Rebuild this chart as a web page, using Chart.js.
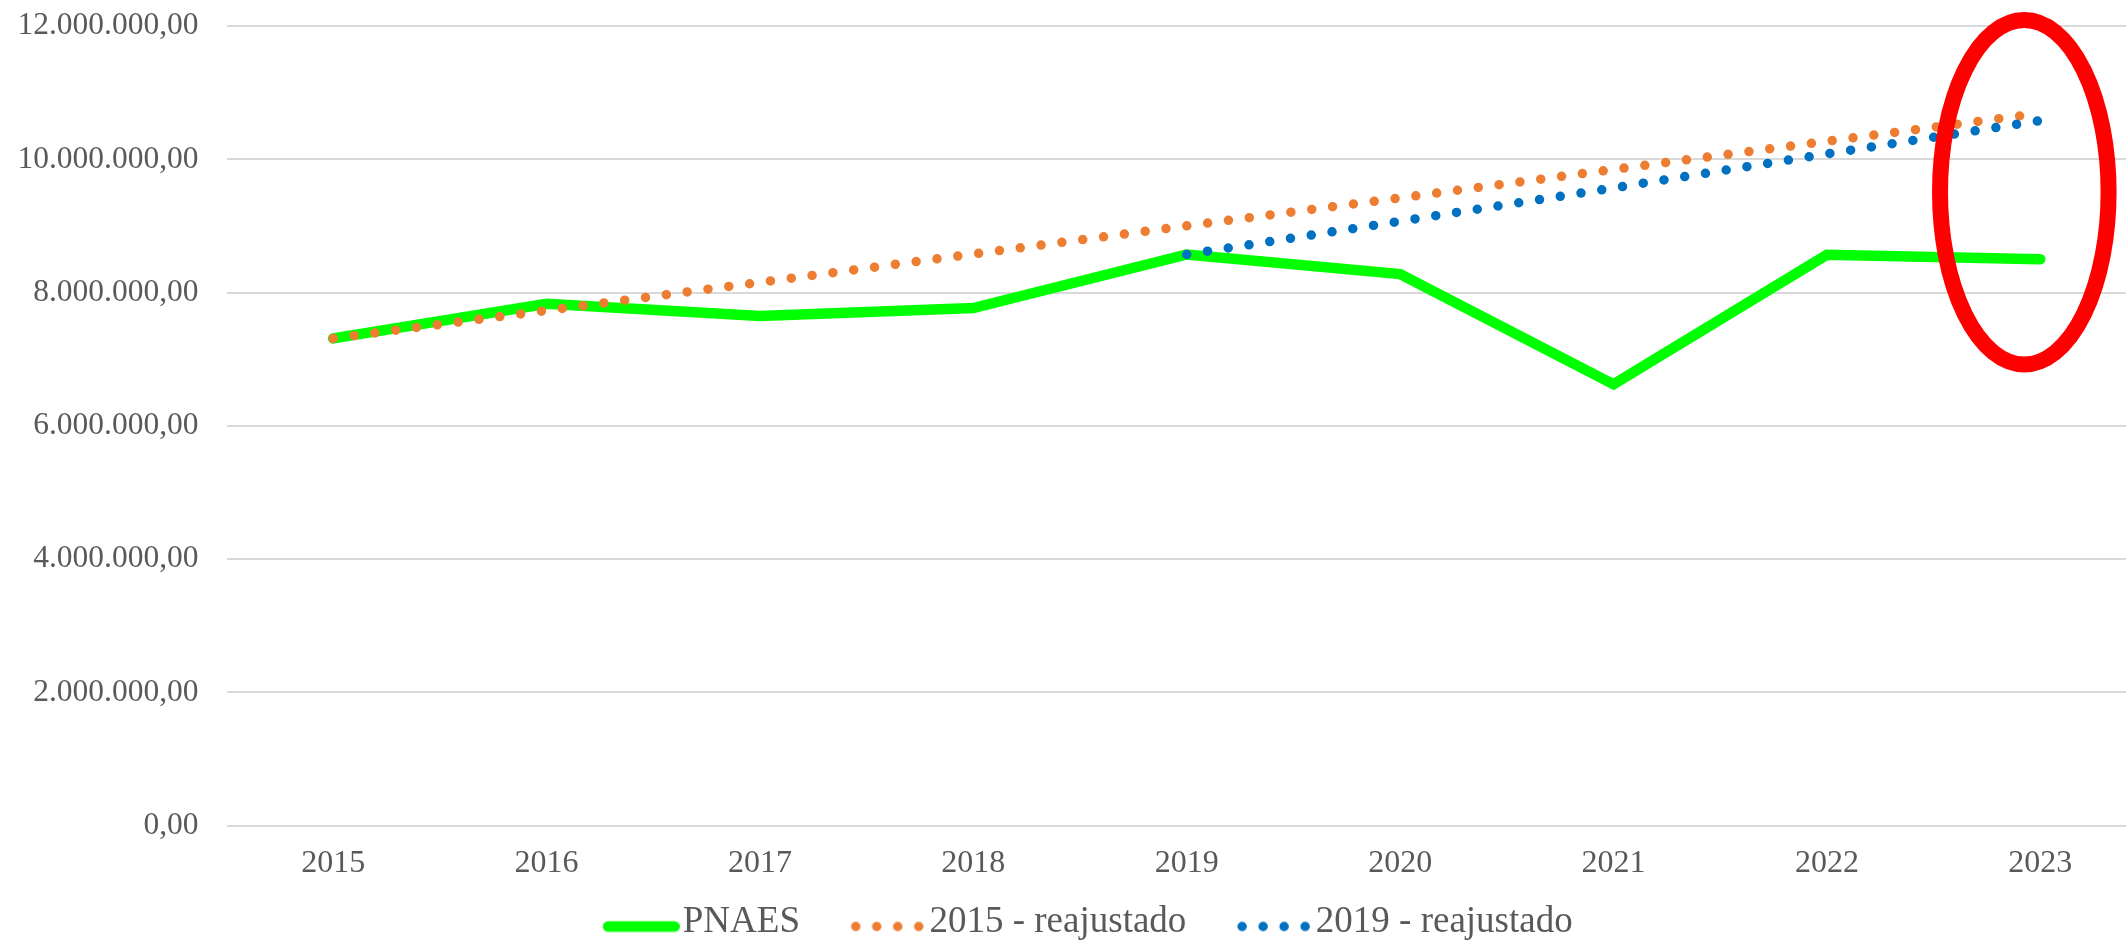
<!DOCTYPE html>
<html lang="pt-BR">
<head>
<meta charset="utf-8">
<title>PNAES</title>
<script src="https://cdn.jsdelivr.net/npm/chart.js@4.4.1/dist/chart.umd.min.js"></script>
<style>
	html, body { margin: 0; padding: 0; background: #fff; overflow: hidden; }
	#wrap { position: absolute; left: 0; top: 0; width: 2147px; height: 951px; }
</style>
</head>
<body>
<div id="wrap"><canvas id="grafico"></canvas></div>
<script>
// Dados
const anos = ['2015', '2016', '2017', '2018', '2019', '2020', '2021', '2022', '2023'];
const pnaes = [7311000, 7830000, 7649000, 7766000, 8571000, 8276000, 6622000, 8566000, 8500000];
const reajuste2015 = [7311000, 7730000, 8152000, 8578000, 9001000, 9420000, 9847000, 10270000, 10690000];
const reajuste2019 = [null, null, null, null, 8571000, 9069000, 9569000, 10080000, 10580000];
const yTicks = [0, 2000000, 4000000, 6000000, 8000000, 10000000, 12000000];

// área destacada (elipse vermelha), em coordenadas dos eixos
const destaqueX = [7.53, 8.32];
const destaqueY = [6920000, 12090000];

const corTexto = '#595959';
const fonte = 'Liberation Serif';

function formatoBR(v) {
	return Math.round(v).toString().replace(/\B(?=(\d{3})+(?!\d))/g, '.') + ',00';
}

// amostras da legenda (parte visível nos 77px da direita)
function iconeLegenda(cor, pontilhado) {
	const c = document.createElement('canvas');
	c.width = 121; c.height = 20;
	const g = c.getContext('2d');
	g.strokeStyle = cor;
	g.lineCap = 'round';
	g.beginPath();
	if (pontilhado) {
		g.lineWidth = 9.5;
		g.setLineDash([0, 21]);
		g.moveTo(50.25, 14); g.lineTo(114, 14);
	} else {
		g.lineWidth = 10.5;
		g.moveTo(49.25, 14); g.lineTo(115.75, 14);
	}
	g.stroke();
	return c;
}

const elipse = {
	id: 'elipse',
	afterDatasetsDraw(chart) {
		const { ctx, scales: { x, y } } = chart;
		const x0 = x.getPixelForValue(destaqueX[0]), x1 = x.getPixelForValue(destaqueX[1]);
		const y0 = y.getPixelForValue(destaqueY[1]), y1 = y.getPixelForValue(destaqueY[0]);
		ctx.save();
		ctx.strokeStyle = '#ff0000';
		ctx.lineWidth = 16;
		ctx.beginPath();
		ctx.ellipse((x0 + x1) / 2, (y0 + y1) / 2, (x1 - x0) / 2, (y1 - y0) / 2, 0, 0, Math.PI * 2);
		ctx.stroke();
		ctx.restore();
	}
};

const ctx = document.getElementById('grafico');

new Chart(ctx, {
	type: 'line',
	data: {
		labels: anos,
		datasets: [{
			label: 'PNAES',
			data: pnaes,
			borderColor: '#00ff00',
			borderWidth: 10.5,
			borderCapStyle: 'round',
			borderJoinStyle: 'miter',
			pointRadius: 0,
			pointHoverRadius: 0,
			pointStyle: iconeLegenda('#00ff00', false),
			tension: 0,
			order: 3
		}, {
			label: '2015 - reajustado',
			data: reajuste2015,
			borderColor: '#ed7d31',
			borderWidth: 9.5,
			borderDash: [0, 21],
			borderCapStyle: 'round',
			pointRadius: 0,
			pointHoverRadius: 0,
			pointStyle: iconeLegenda('#ed7d31', true),
			tension: 0,
			order: 2
		}, {
			label: '2019 - reajustado',
			data: reajuste2019,
			borderColor: '#0070c0',
			borderWidth: 9.5,
			borderDash: [0, 21],
			borderCapStyle: 'round',
			pointRadius: 0,
			pointHoverRadius: 0,
			pointStyle: iconeLegenda('#0070c0', true),
			tension: 0,
			order: 1
		}]
	},
	options: {
		responsive: true,
		maintainAspectRatio: false,
		animation: false,
		layout: {
			padding: { top: 26, left: 0, right: 0, bottom: 0 }
		},
		scales: {
			x: {
				offset: true,
				grid: { display: false, drawTicks: false },
				border: { display: false },
				ticks: {
					color: corTexto,
					padding: 19,
					font: { family: fonte, size: 32 }
				},
				afterFit(scale) { scale.height = 57.5; }
			},
			y: {
				min: 0,
				max: 12000000,
				afterBuildTicks(scale) { scale.ticks = yTicks.map(v => ({ value: v })); },
				grid: { color: '#d9d9d9', lineWidth: 2, drawTicks: true, tickLength: 25, tickColor: 'rgba(0,0,0,0)' },
				border: { display: false },
				ticks: {
					color: corTexto,
					padding: 3,
					font: { family: fonte, size: 31.5 },
					callback: v => formatoBR(v)
				},
				afterFit(scale) { scale.width = 226.5; }
			}
		},
		plugins: {
			legend: {
				display: true,
				position: 'bottom',
				labels: {
					usePointStyle: true,
					pointStyleWidth: 90,
					padding: 21,
					color: corTexto,
					font: { family: fonte, size: 37 },
					sort: (a, b) => a.datasetIndex - b.datasetIndex
				}
			},
			tooltip: { enabled: false }
		}
	},
	plugins: [elipse]
});
</script>
</body>
</html>
